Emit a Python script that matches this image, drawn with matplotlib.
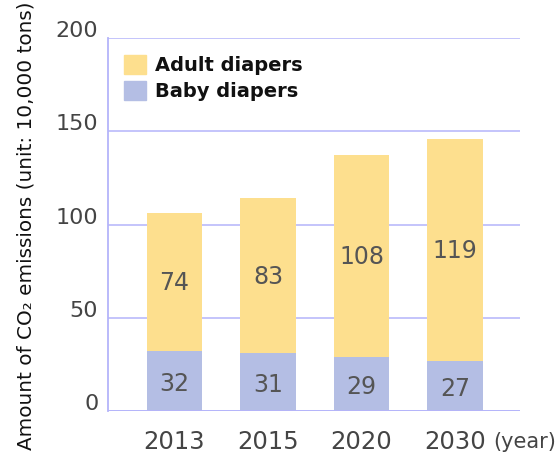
import matplotlib
matplotlib.use("Agg")
import matplotlib.pyplot as plt
from matplotlib.patches import Patch
from matplotlib.transforms import ScaledTranslation
import numpy as np

years = ["2013", "2015", "2020", "2030"]
baby = [32, 31, 29, 27]
adult = [74, 83, 108, 119]
yticks = [0, 50, 100, 150, 200]

c_adult = "#FDDF8E"
c_baby = "#B4BEE4"
grid_c = "#B4B4FA"
txt_c = "#444444"

fig = plt.figure(figsize=(5.58, 4.55), dpi=100)
ax = fig.add_axes([108/558, 1-411/455, (520-108)/558, (411-38)/455])

x = np.arange(len(years))
w = 0.59
ax.bar(x, baby, width=w, color=c_baby, zorder=3, label="Baby diapers")
ax.bar(x, adult, bottom=baby, width=w, color=c_adult, zorder=3, label="Adult diapers")

for xi, b, a in zip(x, baby, adult):
    ax.text(xi, b/2 - 1.5, str(b), ha="center", va="center", fontsize=17, color="#555555", zorder=4)
    ax.text(xi, b + a/2 - 0.5, str(a), ha="center", va="center", fontsize=17, color="#555555", zorder=4)

ax.set_ylim(0, 200)
ax.set_xlim(-0.711, 3.695)
ax.set_yticks(yticks)
ax.set_xticks(x)
ax.set_xticklabels(years, fontsize=17.5, color=txt_c)
ax.tick_params(axis="both", length=0)
ax.tick_params(axis="x", pad=14)
ax.tick_params(axis="y", pad=7, labelsize=16, labelcolor=txt_c)
off = ScaledTranslation(0, 9/100, fig.dpi_scale_trans)
for lab in ax.get_yticklabels():
    lab.set_transform(lab.get_transform() + off)

ax.yaxis.grid(True, color=grid_c, linewidth=1.1, zorder=1)
for s in ["top", "right", "bottom"]:
    ax.spines[s].set_visible(False)
ax.spines["left"].set_color(grid_c)
ax.spines["left"].set_linewidth(1.3)
ax.axhline(0, color=grid_c, linewidth=1.3, zorder=5)

ax.text(385/412, -0.083, "(year)", transform=ax.transAxes, ha="left", va="center",
        fontsize=15, color=txt_c, clip_on=False)

handles = [Patch(color=c_adult), Patch(color=c_baby)]
leg = ax.legend(handles, ["Adult diapers", "Baby diapers"], loc="upper left",
                bbox_to_anchor=(0.02, 0.975), frameon=False, handlelength=1.15,
                handleheight=1.15, handletextpad=0.45, labelspacing=0.3,
                prop={"size": 14, "weight": "bold"}, borderaxespad=0)
for t in leg.get_texts():
    t.set_color("#111111")

fig.text(0.046, 0.996, "Amount of CO\u2082 emissions (unit: 10,000 tons)", rotation=90,
         ha="center", va="top", fontsize=14.4, color="#111111")

fig.savefig("out.png", dpi=100)
